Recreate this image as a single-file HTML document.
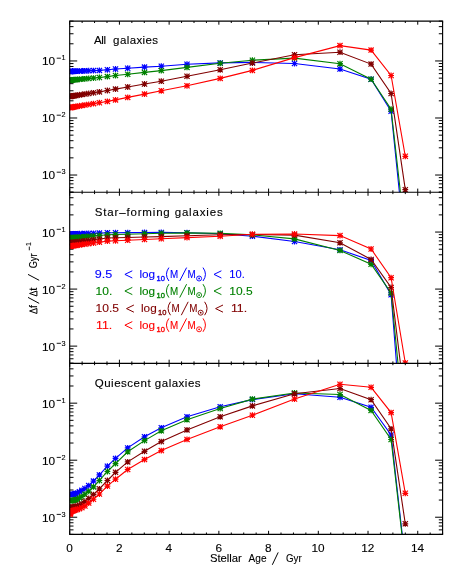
<!DOCTYPE html>
<html><head><meta charset="utf-8"><title>SFH</title>
<style>
html,body{margin:0;padding:0;background:#fff;}
svg{display:block;will-change:transform;}
text{font-family:"Liberation Sans",sans-serif;fill:#000;stroke:#000;stroke-width:0.12px;}
</style></head><body>
<svg width="463" height="579" viewBox="0 0 463 579">
<rect width="463" height="579" fill="#fff"/>
<defs>
<clipPath id="c0"><rect x="69.7" y="21.10" width="372.90" height="171.10"/></clipPath>
<clipPath id="c1"><rect x="69.7" y="192.20" width="372.90" height="171.10"/></clipPath>
<clipPath id="c2"><rect x="69.7" y="363.30" width="372.90" height="171.10"/></clipPath>
</defs>
<path d="M69.70 21.10v3.6M69.70 192.20v-3.6M82.13 21.10v1.9M82.13 192.20v-1.9M94.56 21.10v1.9M94.56 192.20v-1.9M106.99 21.10v1.9M106.99 192.20v-1.9M119.42 21.10v3.6M119.42 192.20v-3.6M131.85 21.10v1.9M131.85 192.20v-1.9M144.28 21.10v1.9M144.28 192.20v-1.9M156.71 21.10v1.9M156.71 192.20v-1.9M169.14 21.10v3.6M169.14 192.20v-3.6M181.57 21.10v1.9M181.57 192.20v-1.9M194.00 21.10v1.9M194.00 192.20v-1.9M206.43 21.10v1.9M206.43 192.20v-1.9M218.86 21.10v3.6M218.86 192.20v-3.6M231.29 21.10v1.9M231.29 192.20v-1.9M243.72 21.10v1.9M243.72 192.20v-1.9M256.15 21.10v1.9M256.15 192.20v-1.9M268.58 21.10v3.6M268.58 192.20v-3.6M281.01 21.10v1.9M281.01 192.20v-1.9M293.44 21.10v1.9M293.44 192.20v-1.9M305.87 21.10v1.9M305.87 192.20v-1.9M318.30 21.10v3.6M318.30 192.20v-3.6M330.73 21.10v1.9M330.73 192.20v-1.9M343.16 21.10v1.9M343.16 192.20v-1.9M355.59 21.10v1.9M355.59 192.20v-1.9M368.02 21.10v3.6M368.02 192.20v-3.6M380.45 21.10v1.9M380.45 192.20v-1.9M392.88 21.10v1.9M392.88 192.20v-1.9M405.31 21.10v1.9M405.31 192.20v-1.9M417.74 21.10v3.6M417.74 192.20v-3.6M430.17 21.10v1.9M430.17 192.20v-1.9M442.60 21.10v1.9M442.60 192.20v-1.9M69.7 60.96h7.5M442.6 60.96h-7.5M69.7 43.79h3.8M442.6 43.79h-3.8M69.7 33.75h3.8M442.6 33.75h-3.8M69.7 26.63h3.8M442.6 26.63h-3.8M69.7 21.10h3.8M442.6 21.10h-3.8M69.7 117.99h7.5M442.6 117.99h-7.5M69.7 100.82h3.8M442.6 100.82h-3.8M69.7 90.78h3.8M442.6 90.78h-3.8M69.7 83.66h3.8M442.6 83.66h-3.8M69.7 78.13h3.8M442.6 78.13h-3.8M69.7 73.61h3.8M442.6 73.61h-3.8M69.7 69.80h3.8M442.6 69.80h-3.8M69.7 66.49h3.8M442.6 66.49h-3.8M69.7 63.57h3.8M442.6 63.57h-3.8M69.7 175.02h7.5M442.6 175.02h-7.5M69.7 157.85h3.8M442.6 157.85h-3.8M69.7 147.81h3.8M442.6 147.81h-3.8M69.7 140.69h3.8M442.6 140.69h-3.8M69.7 135.16h3.8M442.6 135.16h-3.8M69.7 130.64h3.8M442.6 130.64h-3.8M69.7 126.83h3.8M442.6 126.83h-3.8M69.7 123.52h3.8M442.6 123.52h-3.8M69.7 120.60h3.8M442.6 120.60h-3.8M69.7 192.19h3.8M442.6 192.19h-3.8M69.7 187.67h3.8M442.6 187.67h-3.8M69.7 183.86h3.8M442.6 183.86h-3.8M69.7 180.55h3.8M442.6 180.55h-3.8M69.7 177.63h3.8M442.6 177.63h-3.8M69.70 192.20v3.6M69.70 363.30v-3.6M82.13 192.20v1.9M82.13 363.30v-1.9M94.56 192.20v1.9M94.56 363.30v-1.9M106.99 192.20v1.9M106.99 363.30v-1.9M119.42 192.20v3.6M119.42 363.30v-3.6M131.85 192.20v1.9M131.85 363.30v-1.9M144.28 192.20v1.9M144.28 363.30v-1.9M156.71 192.20v1.9M156.71 363.30v-1.9M169.14 192.20v3.6M169.14 363.30v-3.6M181.57 192.20v1.9M181.57 363.30v-1.9M194.00 192.20v1.9M194.00 363.30v-1.9M206.43 192.20v1.9M206.43 363.30v-1.9M218.86 192.20v3.6M218.86 363.30v-3.6M231.29 192.20v1.9M231.29 363.30v-1.9M243.72 192.20v1.9M243.72 363.30v-1.9M256.15 192.20v1.9M256.15 363.30v-1.9M268.58 192.20v3.6M268.58 363.30v-3.6M281.01 192.20v1.9M281.01 363.30v-1.9M293.44 192.20v1.9M293.44 363.30v-1.9M305.87 192.20v1.9M305.87 363.30v-1.9M318.30 192.20v3.6M318.30 363.30v-3.6M330.73 192.20v1.9M330.73 363.30v-1.9M343.16 192.20v1.9M343.16 363.30v-1.9M355.59 192.20v1.9M355.59 363.30v-1.9M368.02 192.20v3.6M368.02 363.30v-3.6M380.45 192.20v1.9M380.45 363.30v-1.9M392.88 192.20v1.9M392.88 363.30v-1.9M405.31 192.20v1.9M405.31 363.30v-1.9M417.74 192.20v3.6M417.74 363.30v-3.6M430.17 192.20v1.9M430.17 363.30v-1.9M442.60 192.20v1.9M442.60 363.30v-1.9M69.7 232.06h7.5M442.6 232.06h-7.5M69.7 214.89h3.8M442.6 214.89h-3.8M69.7 204.85h3.8M442.6 204.85h-3.8M69.7 197.73h3.8M442.6 197.73h-3.8M69.7 192.20h3.8M442.6 192.20h-3.8M69.7 289.09h7.5M442.6 289.09h-7.5M69.7 271.92h3.8M442.6 271.92h-3.8M69.7 261.88h3.8M442.6 261.88h-3.8M69.7 254.76h3.8M442.6 254.76h-3.8M69.7 249.23h3.8M442.6 249.23h-3.8M69.7 244.71h3.8M442.6 244.71h-3.8M69.7 240.90h3.8M442.6 240.90h-3.8M69.7 237.59h3.8M442.6 237.59h-3.8M69.7 234.67h3.8M442.6 234.67h-3.8M69.7 346.12h7.5M442.6 346.12h-7.5M69.7 328.95h3.8M442.6 328.95h-3.8M69.7 318.91h3.8M442.6 318.91h-3.8M69.7 311.79h3.8M442.6 311.79h-3.8M69.7 306.26h3.8M442.6 306.26h-3.8M69.7 301.74h3.8M442.6 301.74h-3.8M69.7 297.93h3.8M442.6 297.93h-3.8M69.7 294.62h3.8M442.6 294.62h-3.8M69.7 291.70h3.8M442.6 291.70h-3.8M69.7 363.29h3.8M442.6 363.29h-3.8M69.7 358.77h3.8M442.6 358.77h-3.8M69.7 354.96h3.8M442.6 354.96h-3.8M69.7 351.65h3.8M442.6 351.65h-3.8M69.7 348.73h3.8M442.6 348.73h-3.8M69.70 363.30v3.6M69.70 534.40v-3.6M82.13 363.30v1.9M82.13 534.40v-1.9M94.56 363.30v1.9M94.56 534.40v-1.9M106.99 363.30v1.9M106.99 534.40v-1.9M119.42 363.30v3.6M119.42 534.40v-3.6M131.85 363.30v1.9M131.85 534.40v-1.9M144.28 363.30v1.9M144.28 534.40v-1.9M156.71 363.30v1.9M156.71 534.40v-1.9M169.14 363.30v3.6M169.14 534.40v-3.6M181.57 363.30v1.9M181.57 534.40v-1.9M194.00 363.30v1.9M194.00 534.40v-1.9M206.43 363.30v1.9M206.43 534.40v-1.9M218.86 363.30v3.6M218.86 534.40v-3.6M231.29 363.30v1.9M231.29 534.40v-1.9M243.72 363.30v1.9M243.72 534.40v-1.9M256.15 363.30v1.9M256.15 534.40v-1.9M268.58 363.30v3.6M268.58 534.40v-3.6M281.01 363.30v1.9M281.01 534.40v-1.9M293.44 363.30v1.9M293.44 534.40v-1.9M305.87 363.30v1.9M305.87 534.40v-1.9M318.30 363.30v3.6M318.30 534.40v-3.6M330.73 363.30v1.9M330.73 534.40v-1.9M343.16 363.30v1.9M343.16 534.40v-1.9M355.59 363.30v1.9M355.59 534.40v-1.9M368.02 363.30v3.6M368.02 534.40v-3.6M380.45 363.30v1.9M380.45 534.40v-1.9M392.88 363.30v1.9M392.88 534.40v-1.9M405.31 363.30v1.9M405.31 534.40v-1.9M417.74 363.30v3.6M417.74 534.40v-3.6M430.17 363.30v1.9M430.17 534.40v-1.9M442.60 363.30v1.9M442.60 534.40v-1.9M69.7 403.16h7.5M442.6 403.16h-7.5M69.7 385.99h3.8M442.6 385.99h-3.8M69.7 375.95h3.8M442.6 375.95h-3.8M69.7 368.83h3.8M442.6 368.83h-3.8M69.7 363.30h3.8M442.6 363.30h-3.8M69.7 460.19h7.5M442.6 460.19h-7.5M69.7 443.02h3.8M442.6 443.02h-3.8M69.7 432.98h3.8M442.6 432.98h-3.8M69.7 425.86h3.8M442.6 425.86h-3.8M69.7 420.33h3.8M442.6 420.33h-3.8M69.7 415.81h3.8M442.6 415.81h-3.8M69.7 412.00h3.8M442.6 412.00h-3.8M69.7 408.69h3.8M442.6 408.69h-3.8M69.7 405.77h3.8M442.6 405.77h-3.8M69.7 517.22h7.5M442.6 517.22h-7.5M69.7 500.05h3.8M442.6 500.05h-3.8M69.7 490.01h3.8M442.6 490.01h-3.8M69.7 482.89h3.8M442.6 482.89h-3.8M69.7 477.36h3.8M442.6 477.36h-3.8M69.7 472.84h3.8M442.6 472.84h-3.8M69.7 469.03h3.8M442.6 469.03h-3.8M69.7 465.72h3.8M442.6 465.72h-3.8M69.7 462.80h3.8M442.6 462.80h-3.8M69.7 534.39h3.8M442.6 534.39h-3.8M69.7 529.87h3.8M442.6 529.87h-3.8M69.7 526.06h3.8M442.6 526.06h-3.8M69.7 522.75h3.8M442.6 522.75h-3.8M69.7 519.83h3.8M442.6 519.83h-3.8" fill="none" stroke="#000" stroke-width="1.0"/>
<g clip-path="url(#c0)" fill="none">
<path d="M69.81 71.40L69.84 71.40L69.88 71.39L69.92 71.39L69.97 71.39L70.04 71.39L70.13 71.39L70.24 71.38L70.37 71.38L70.54 71.37L70.74 71.36L71.01 71.36L71.33 71.35L71.74 71.33L72.25 71.31L72.89 71.29L73.69 71.27L74.68 71.23L75.93 71.19L77.49 71.14L79.43 71.07L81.87 70.99L84.91 70.89L88.71 70.76L93.46 70.60L99.40 70.40L107.40 69.80L115.50 69.00L127.70 68.20L144.50 67.10L161.30 66.20L187.00 64.20L220.20 62.90L252.40 62.40L294.50 63.50L340.00 69.00L371.10 79.20L391.10 111.20L405.30 250.00" stroke="#0000ff" stroke-width="1.1"/>
<path d="M66.91 71.40H72.71M69.81 68.50V74.30M67.21 68.80L72.41 74.00M67.21 74.00L72.41 68.80M66.94 71.40H72.74M69.84 68.50V74.30M67.24 68.80L72.44 74.00M67.24 74.00L72.44 68.80M66.98 71.39H72.78M69.88 68.49V74.29M67.28 68.79L72.48 73.99M67.28 73.99L72.48 68.79M67.02 71.39H72.82M69.92 68.49V74.29M67.32 68.79L72.52 73.99M67.32 73.99L72.52 68.79M67.07 71.39H72.87M69.97 68.49V74.29M67.37 68.79L72.57 73.99M67.37 73.99L72.57 68.79M67.14 71.39H72.94M70.04 68.49V74.29M67.44 68.79L72.64 73.99M67.44 73.99L72.64 68.79M67.23 71.39H73.03M70.13 68.49V74.29M67.53 68.79L72.73 73.99M67.53 73.99L72.73 68.79M67.34 71.38H73.14M70.24 68.48V74.28M67.64 68.78L72.84 73.98M67.64 73.98L72.84 68.78M67.47 71.38H73.27M70.37 68.48V74.28M67.77 68.78L72.97 73.98M67.77 73.98L72.97 68.78M67.64 71.37H73.44M70.54 68.47V74.27M67.94 68.77L73.14 73.97M67.94 73.97L73.14 68.77M67.84 71.36H73.64M70.74 68.46V74.26M68.14 68.76L73.34 73.96M68.14 73.96L73.34 68.76M68.11 71.36H73.91M71.01 68.46V74.26M68.41 68.76L73.61 73.96M68.41 73.96L73.61 68.76M68.43 71.35H74.23M71.33 68.45V74.25M68.73 68.75L73.93 73.95M68.73 73.95L73.93 68.75M68.84 71.33H74.64M71.74 68.43V74.23M69.14 68.73L74.34 73.93M69.14 73.93L74.34 68.73M69.35 71.31H75.15M72.25 68.41V74.21M69.65 68.71L74.85 73.91M69.65 73.91L74.85 68.71M69.99 71.29H75.79M72.89 68.39V74.19M70.29 68.69L75.49 73.89M70.29 73.89L75.49 68.69M70.79 71.27H76.59M73.69 68.37V74.17M71.09 68.67L76.29 73.87M71.09 73.87L76.29 68.67M71.78 71.23H77.58M74.68 68.33V74.13M72.08 68.63L77.28 73.83M72.08 73.83L77.28 68.63M73.03 71.19H78.83M75.93 68.29V74.09M73.33 68.59L78.53 73.79M73.33 73.79L78.53 68.59M74.59 71.14H80.39M77.49 68.24V74.04M74.89 68.54L80.09 73.74M74.89 73.74L80.09 68.54M76.53 71.07H82.33M79.43 68.17V73.97M76.83 68.47L82.03 73.67M76.83 73.67L82.03 68.47M78.97 70.99H84.77M81.87 68.09V73.89M79.27 68.39L84.47 73.59M79.27 73.59L84.47 68.39M82.01 70.89H87.81M84.91 67.99V73.79M82.31 68.29L87.51 73.49M82.31 73.49L87.51 68.29M85.81 70.76H91.61M88.71 67.86V73.66M86.11 68.16L91.31 73.36M86.11 73.36L91.31 68.16M90.56 70.60H96.36M93.46 67.70V73.50M90.86 68.00L96.06 73.20M90.86 73.20L96.06 68.00M96.50 70.40H102.30M99.40 67.50V73.30M96.80 67.80L102.00 73.00M96.80 73.00L102.00 67.80M104.50 69.80H110.30M107.40 66.90V72.70M104.80 67.20L110.00 72.40M104.80 72.40L110.00 67.20M112.60 69.00H118.40M115.50 66.10V71.90M112.90 66.40L118.10 71.60M112.90 71.60L118.10 66.40M124.80 68.20H130.60M127.70 65.30V71.10M125.10 65.60L130.30 70.80M125.10 70.80L130.30 65.60M141.60 67.10H147.40M144.50 64.20V70.00M141.90 64.50L147.10 69.70M141.90 69.70L147.10 64.50M158.40 66.20H164.20M161.30 63.30V69.10M158.70 63.60L163.90 68.80M158.70 68.80L163.90 63.60M184.10 64.20H189.90M187.00 61.30V67.10M184.40 61.60L189.60 66.80M184.40 66.80L189.60 61.60M217.30 62.90H223.10M220.20 60.00V65.80M217.60 60.30L222.80 65.50M217.60 65.50L222.80 60.30M249.50 62.40H255.30M252.40 59.50V65.30M249.80 59.80L255.00 65.00M249.80 65.00L255.00 59.80M291.60 63.50H297.40M294.50 60.60V66.40M291.90 60.90L297.10 66.10M291.90 66.10L297.10 60.90M337.10 69.00H342.90M340.00 66.10V71.90M337.40 66.40L342.60 71.60M337.40 71.60L342.60 66.40M368.20 79.20H374.00M371.10 76.30V82.10M368.50 76.60L373.70 81.80M368.50 81.80L373.70 76.60M388.20 111.20H394.00M391.10 108.30V114.10M388.50 108.60L393.70 113.80M388.50 113.80L393.70 108.60M402.40 250.00H408.20M405.30 247.10V252.90M402.70 247.40L407.90 252.60M402.70 252.60L407.90 247.40" stroke="#0000ff" stroke-width="1.2"/>
<path d="M69.81 80.19L69.84 80.19L69.88 80.18L69.92 80.18L69.97 80.18L70.04 80.17L70.13 80.16L70.24 80.15L70.37 80.14L70.54 80.12L70.74 80.11L71.01 80.08L71.33 80.05L71.74 80.01L72.25 79.97L72.89 79.91L73.69 79.84L74.68 79.75L75.93 79.63L77.49 79.49L79.43 79.32L81.87 79.09L84.91 78.82L88.71 78.47L93.46 78.04L99.40 77.50L107.40 76.60L115.50 75.50L127.70 74.30L144.50 72.40L161.30 70.60L187.00 67.40L220.20 63.30L252.40 60.20L294.50 58.10L340.00 63.70L371.10 79.20L391.10 109.20L405.30 236.00" stroke="#008000" stroke-width="1.1"/>
<path d="M66.91 80.19H72.71M69.81 77.29V83.09M67.21 77.59L72.41 82.79M67.21 82.79L72.41 77.59M66.94 80.19H72.74M69.84 77.29V83.09M67.24 77.59L72.44 82.79M67.24 82.79L72.44 77.59M66.98 80.18H72.78M69.88 77.28V83.08M67.28 77.58L72.48 82.78M67.28 82.78L72.48 77.58M67.02 80.18H72.82M69.92 77.28V83.08M67.32 77.58L72.52 82.78M67.32 82.78L72.52 77.58M67.07 80.18H72.87M69.97 77.28V83.08M67.37 77.58L72.57 82.78M67.37 82.78L72.57 77.58M67.14 80.17H72.94M70.04 77.27V83.07M67.44 77.57L72.64 82.77M67.44 82.77L72.64 77.57M67.23 80.16H73.03M70.13 77.26V83.06M67.53 77.56L72.73 82.76M67.53 82.76L72.73 77.56M67.34 80.15H73.14M70.24 77.25V83.05M67.64 77.55L72.84 82.75M67.64 82.75L72.84 77.55M67.47 80.14H73.27M70.37 77.24V83.04M67.77 77.54L72.97 82.74M67.77 82.74L72.97 77.54M67.64 80.12H73.44M70.54 77.22V83.02M67.94 77.52L73.14 82.72M67.94 82.72L73.14 77.52M67.84 80.11H73.64M70.74 77.21V83.01M68.14 77.51L73.34 82.71M68.14 82.71L73.34 77.51M68.11 80.08H73.91M71.01 77.18V82.98M68.41 77.48L73.61 82.68M68.41 82.68L73.61 77.48M68.43 80.05H74.23M71.33 77.15V82.95M68.73 77.45L73.93 82.65M68.73 82.65L73.93 77.45M68.84 80.01H74.64M71.74 77.11V82.91M69.14 77.41L74.34 82.61M69.14 82.61L74.34 77.41M69.35 79.97H75.15M72.25 77.07V82.87M69.65 77.37L74.85 82.57M69.65 82.57L74.85 77.37M69.99 79.91H75.79M72.89 77.01V82.81M70.29 77.31L75.49 82.51M70.29 82.51L75.49 77.31M70.79 79.84H76.59M73.69 76.94V82.74M71.09 77.24L76.29 82.44M71.09 82.44L76.29 77.24M71.78 79.75H77.58M74.68 76.85V82.65M72.08 77.15L77.28 82.35M72.08 82.35L77.28 77.15M73.03 79.63H78.83M75.93 76.73V82.53M73.33 77.03L78.53 82.23M73.33 82.23L78.53 77.03M74.59 79.49H80.39M77.49 76.59V82.39M74.89 76.89L80.09 82.09M74.89 82.09L80.09 76.89M76.53 79.32H82.33M79.43 76.42V82.22M76.83 76.72L82.03 81.92M76.83 81.92L82.03 76.72M78.97 79.09H84.77M81.87 76.19V81.99M79.27 76.49L84.47 81.69M79.27 81.69L84.47 76.49M82.01 78.82H87.81M84.91 75.92V81.72M82.31 76.22L87.51 81.42M82.31 81.42L87.51 76.22M85.81 78.47H91.61M88.71 75.57V81.37M86.11 75.87L91.31 81.07M86.11 81.07L91.31 75.87M90.56 78.04H96.36M93.46 75.14V80.94M90.86 75.44L96.06 80.64M90.86 80.64L96.06 75.44M96.50 77.50H102.30M99.40 74.60V80.40M96.80 74.90L102.00 80.10M96.80 80.10L102.00 74.90M104.50 76.60H110.30M107.40 73.70V79.50M104.80 74.00L110.00 79.20M104.80 79.20L110.00 74.00M112.60 75.50H118.40M115.50 72.60V78.40M112.90 72.90L118.10 78.10M112.90 78.10L118.10 72.90M124.80 74.30H130.60M127.70 71.40V77.20M125.10 71.70L130.30 76.90M125.10 76.90L130.30 71.70M141.60 72.40H147.40M144.50 69.50V75.30M141.90 69.80L147.10 75.00M141.90 75.00L147.10 69.80M158.40 70.60H164.20M161.30 67.70V73.50M158.70 68.00L163.90 73.20M158.70 73.20L163.90 68.00M184.10 67.40H189.90M187.00 64.50V70.30M184.40 64.80L189.60 70.00M184.40 70.00L189.60 64.80M217.30 63.30H223.10M220.20 60.40V66.20M217.60 60.70L222.80 65.90M217.60 65.90L222.80 60.70M249.50 60.20H255.30M252.40 57.30V63.10M249.80 57.60L255.00 62.80M249.80 62.80L255.00 57.60M291.60 58.10H297.40M294.50 55.20V61.00M291.90 55.50L297.10 60.70M291.90 60.70L297.10 55.50M337.10 63.70H342.90M340.00 60.80V66.60M337.40 61.10L342.60 66.30M337.40 66.30L342.60 61.10M368.20 79.20H374.00M371.10 76.30V82.10M368.50 76.60L373.70 81.80M368.50 81.80L373.70 76.60M388.20 109.20H394.00M391.10 106.30V112.10M388.50 106.60L393.70 111.80M388.50 111.80L393.70 106.60M402.40 236.00H408.20M405.30 233.10V238.90M402.70 233.40L407.90 238.60M402.70 238.60L407.90 233.40" stroke="#008000" stroke-width="1.2"/>
<path d="M69.81 96.38L69.84 96.38L69.88 96.37L69.92 96.37L69.97 96.36L70.04 96.35L70.13 96.34L70.24 96.32L70.37 96.30L70.54 96.27L70.74 96.24L71.01 96.20L71.33 96.15L71.74 96.09L72.25 96.01L72.89 95.92L73.69 95.80L74.68 95.65L75.93 95.46L77.49 95.22L79.43 94.93L81.87 94.56L84.91 94.10L88.71 93.52L93.46 92.80L99.40 91.90L107.40 90.50L115.50 89.10L127.70 87.00L144.50 84.00L161.30 81.20L187.00 76.30L220.20 69.80L252.40 63.00L294.50 54.80L340.00 52.20L371.10 64.10L391.10 93.50L405.30 189.70" stroke="#800000" stroke-width="1.1"/>
<path d="M66.91 96.38H72.71M69.81 93.48V99.28M67.21 93.78L72.41 98.98M67.21 98.98L72.41 93.78M66.94 96.38H72.74M69.84 93.48V99.28M67.24 93.78L72.44 98.98M67.24 98.98L72.44 93.78M66.98 96.37H72.78M69.88 93.47V99.27M67.28 93.77L72.48 98.97M67.28 98.97L72.48 93.77M67.02 96.37H72.82M69.92 93.47V99.27M67.32 93.77L72.52 98.97M67.32 98.97L72.52 93.77M67.07 96.36H72.87M69.97 93.46V99.26M67.37 93.76L72.57 98.96M67.37 98.96L72.57 93.76M67.14 96.35H72.94M70.04 93.45V99.25M67.44 93.75L72.64 98.95M67.44 98.95L72.64 93.75M67.23 96.34H73.03M70.13 93.44V99.24M67.53 93.74L72.73 98.94M67.53 98.94L72.73 93.74M67.34 96.32H73.14M70.24 93.42V99.22M67.64 93.72L72.84 98.92M67.64 98.92L72.84 93.72M67.47 96.30H73.27M70.37 93.40V99.20M67.77 93.70L72.97 98.90M67.77 98.90L72.97 93.70M67.64 96.27H73.44M70.54 93.37V99.17M67.94 93.67L73.14 98.87M67.94 98.87L73.14 93.67M67.84 96.24H73.64M70.74 93.34V99.14M68.14 93.64L73.34 98.84M68.14 98.84L73.34 93.64M68.11 96.20H73.91M71.01 93.30V99.10M68.41 93.60L73.61 98.80M68.41 98.80L73.61 93.60M68.43 96.15H74.23M71.33 93.25V99.05M68.73 93.55L73.93 98.75M68.73 98.75L73.93 93.55M68.84 96.09H74.64M71.74 93.19V98.99M69.14 93.49L74.34 98.69M69.14 98.69L74.34 93.49M69.35 96.01H75.15M72.25 93.11V98.91M69.65 93.41L74.85 98.61M69.65 98.61L74.85 93.41M69.99 95.92H75.79M72.89 93.02V98.82M70.29 93.32L75.49 98.52M70.29 98.52L75.49 93.32M70.79 95.80H76.59M73.69 92.90V98.70M71.09 93.20L76.29 98.40M71.09 98.40L76.29 93.20M71.78 95.65H77.58M74.68 92.75V98.55M72.08 93.05L77.28 98.25M72.08 98.25L77.28 93.05M73.03 95.46H78.83M75.93 92.56V98.36M73.33 92.86L78.53 98.06M73.33 98.06L78.53 92.86M74.59 95.22H80.39M77.49 92.32V98.12M74.89 92.62L80.09 97.82M74.89 97.82L80.09 92.62M76.53 94.93H82.33M79.43 92.03V97.83M76.83 92.33L82.03 97.53M76.83 97.53L82.03 92.33M78.97 94.56H84.77M81.87 91.66V97.46M79.27 91.96L84.47 97.16M79.27 97.16L84.47 91.96M82.01 94.10H87.81M84.91 91.20V97.00M82.31 91.50L87.51 96.70M82.31 96.70L87.51 91.50M85.81 93.52H91.61M88.71 90.62V96.42M86.11 90.92L91.31 96.12M86.11 96.12L91.31 90.92M90.56 92.80H96.36M93.46 89.90V95.70M90.86 90.20L96.06 95.40M90.86 95.40L96.06 90.20M96.50 91.90H102.30M99.40 89.00V94.80M96.80 89.30L102.00 94.50M96.80 94.50L102.00 89.30M104.50 90.50H110.30M107.40 87.60V93.40M104.80 87.90L110.00 93.10M104.80 93.10L110.00 87.90M112.60 89.10H118.40M115.50 86.20V92.00M112.90 86.50L118.10 91.70M112.90 91.70L118.10 86.50M124.80 87.00H130.60M127.70 84.10V89.90M125.10 84.40L130.30 89.60M125.10 89.60L130.30 84.40M141.60 84.00H147.40M144.50 81.10V86.90M141.90 81.40L147.10 86.60M141.90 86.60L147.10 81.40M158.40 81.20H164.20M161.30 78.30V84.10M158.70 78.60L163.90 83.80M158.70 83.80L163.90 78.60M184.10 76.30H189.90M187.00 73.40V79.20M184.40 73.70L189.60 78.90M184.40 78.90L189.60 73.70M217.30 69.80H223.10M220.20 66.90V72.70M217.60 67.20L222.80 72.40M217.60 72.40L222.80 67.20M249.50 63.00H255.30M252.40 60.10V65.90M249.80 60.40L255.00 65.60M249.80 65.60L255.00 60.40M291.60 54.80H297.40M294.50 51.90V57.70M291.90 52.20L297.10 57.40M291.90 57.40L297.10 52.20M337.10 52.20H342.90M340.00 49.30V55.10M337.40 49.60L342.60 54.80M337.40 54.80L342.60 49.60M368.20 64.10H374.00M371.10 61.20V67.00M368.50 61.50L373.70 66.70M368.50 66.70L373.70 61.50M388.20 93.50H394.00M391.10 90.60V96.40M388.50 90.90L393.70 96.10M388.50 96.10L393.70 90.90M402.40 189.70H408.20M405.30 186.80V192.60M402.70 187.10L407.90 192.30M402.70 192.30L407.90 187.10" stroke="#800000" stroke-width="1.2"/>
<path d="M69.81 107.58L69.84 107.58L69.88 107.57L69.92 107.56L69.97 107.55L70.04 107.54L70.13 107.53L70.24 107.51L70.37 107.49L70.54 107.46L70.74 107.43L71.01 107.38L71.33 107.33L71.74 107.26L72.25 107.18L72.89 107.07L73.69 106.94L74.68 106.78L75.93 106.57L77.49 106.32L79.43 105.99L81.87 105.59L84.91 105.09L88.71 104.46L93.46 103.68L99.40 102.70L107.40 101.40L115.50 99.90L127.70 97.40L144.50 94.10L161.30 90.80L187.00 85.80L220.20 78.40L252.40 70.40L294.50 57.60L340.00 45.60L371.10 50.10L391.10 75.50L405.30 156.30" stroke="#ff0000" stroke-width="1.1"/>
<path d="M66.91 107.58H72.71M69.81 104.68V110.48M67.21 104.98L72.41 110.18M67.21 110.18L72.41 104.98M66.94 107.58H72.74M69.84 104.68V110.48M67.24 104.98L72.44 110.18M67.24 110.18L72.44 104.98M66.98 107.57H72.78M69.88 104.67V110.47M67.28 104.97L72.48 110.17M67.28 110.17L72.48 104.97M67.02 107.56H72.82M69.92 104.66V110.46M67.32 104.96L72.52 110.16M67.32 110.16L72.52 104.96M67.07 107.55H72.87M69.97 104.65V110.45M67.37 104.95L72.57 110.15M67.37 110.15L72.57 104.95M67.14 107.54H72.94M70.04 104.64V110.44M67.44 104.94L72.64 110.14M67.44 110.14L72.64 104.94M67.23 107.53H73.03M70.13 104.63V110.43M67.53 104.93L72.73 110.13M67.53 110.13L72.73 104.93M67.34 107.51H73.14M70.24 104.61V110.41M67.64 104.91L72.84 110.11M67.64 110.11L72.84 104.91M67.47 107.49H73.27M70.37 104.59V110.39M67.77 104.89L72.97 110.09M67.77 110.09L72.97 104.89M67.64 107.46H73.44M70.54 104.56V110.36M67.94 104.86L73.14 110.06M67.94 110.06L73.14 104.86M67.84 107.43H73.64M70.74 104.53V110.33M68.14 104.83L73.34 110.03M68.14 110.03L73.34 104.83M68.11 107.38H73.91M71.01 104.48V110.28M68.41 104.78L73.61 109.98M68.41 109.98L73.61 104.78M68.43 107.33H74.23M71.33 104.43V110.23M68.73 104.73L73.93 109.93M68.73 109.93L73.93 104.73M68.84 107.26H74.64M71.74 104.36V110.16M69.14 104.66L74.34 109.86M69.14 109.86L74.34 104.66M69.35 107.18H75.15M72.25 104.28V110.08M69.65 104.58L74.85 109.78M69.65 109.78L74.85 104.58M69.99 107.07H75.79M72.89 104.17V109.97M70.29 104.47L75.49 109.67M70.29 109.67L75.49 104.47M70.79 106.94H76.59M73.69 104.04V109.84M71.09 104.34L76.29 109.54M71.09 109.54L76.29 104.34M71.78 106.78H77.58M74.68 103.88V109.68M72.08 104.18L77.28 109.38M72.08 109.38L77.28 104.18M73.03 106.57H78.83M75.93 103.67V109.47M73.33 103.97L78.53 109.17M73.33 109.17L78.53 103.97M74.59 106.32H80.39M77.49 103.42V109.22M74.89 103.72L80.09 108.92M74.89 108.92L80.09 103.72M76.53 105.99H82.33M79.43 103.09V108.89M76.83 103.39L82.03 108.59M76.83 108.59L82.03 103.39M78.97 105.59H84.77M81.87 102.69V108.49M79.27 102.99L84.47 108.19M79.27 108.19L84.47 102.99M82.01 105.09H87.81M84.91 102.19V107.99M82.31 102.49L87.51 107.69M82.31 107.69L87.51 102.49M85.81 104.46H91.61M88.71 101.56V107.36M86.11 101.86L91.31 107.06M86.11 107.06L91.31 101.86M90.56 103.68H96.36M93.46 100.78V106.58M90.86 101.08L96.06 106.28M90.86 106.28L96.06 101.08M96.50 102.70H102.30M99.40 99.80V105.60M96.80 100.10L102.00 105.30M96.80 105.30L102.00 100.10M104.50 101.40H110.30M107.40 98.50V104.30M104.80 98.80L110.00 104.00M104.80 104.00L110.00 98.80M112.60 99.90H118.40M115.50 97.00V102.80M112.90 97.30L118.10 102.50M112.90 102.50L118.10 97.30M124.80 97.40H130.60M127.70 94.50V100.30M125.10 94.80L130.30 100.00M125.10 100.00L130.30 94.80M141.60 94.10H147.40M144.50 91.20V97.00M141.90 91.50L147.10 96.70M141.90 96.70L147.10 91.50M158.40 90.80H164.20M161.30 87.90V93.70M158.70 88.20L163.90 93.40M158.70 93.40L163.90 88.20M184.10 85.80H189.90M187.00 82.90V88.70M184.40 83.20L189.60 88.40M184.40 88.40L189.60 83.20M217.30 78.40H223.10M220.20 75.50V81.30M217.60 75.80L222.80 81.00M217.60 81.00L222.80 75.80M249.50 70.40H255.30M252.40 67.50V73.30M249.80 67.80L255.00 73.00M249.80 73.00L255.00 67.80M291.60 57.60H297.40M294.50 54.70V60.50M291.90 55.00L297.10 60.20M291.90 60.20L297.10 55.00M337.10 45.60H342.90M340.00 42.70V48.50M337.40 43.00L342.60 48.20M337.40 48.20L342.60 43.00M368.20 50.10H374.00M371.10 47.20V53.00M368.50 47.50L373.70 52.70M368.50 52.70L373.70 47.50M388.20 75.50H394.00M391.10 72.60V78.40M388.50 72.90L393.70 78.10M388.50 78.10L393.70 72.90M402.40 156.30H408.20M405.30 153.40V159.20M402.70 153.70L407.90 158.90M402.70 158.90L407.90 153.70" stroke="#ff0000" stroke-width="1.2"/>
</g>
<g clip-path="url(#c1)" fill="none">
<path d="M69.81 234.10L69.84 234.10L69.88 234.09L69.92 234.09L69.97 234.09L70.04 234.09L70.13 234.09L70.24 234.08L70.37 234.08L70.54 234.07L70.74 234.06L71.01 234.05L71.33 234.04L71.74 234.03L72.25 234.01L72.89 233.99L73.69 233.96L74.68 233.93L75.93 233.89L77.49 233.83L79.43 233.76L81.87 233.68L84.91 233.58L88.71 233.44L93.46 233.28L99.40 233.08L107.40 232.80L115.50 232.74L127.70 232.65L144.50 232.52L161.30 232.40L187.00 232.70L220.20 233.80L252.40 236.20L294.50 241.50L340.00 249.80L371.10 260.40L391.10 294.70L405.30 476.00" stroke="#0000ff" stroke-width="1.1"/>
<path d="M66.91 234.10H72.71M69.81 231.20V237.00M67.21 231.50L72.41 236.70M67.21 236.70L72.41 231.50M66.94 234.10H72.74M69.84 231.20V237.00M67.24 231.50L72.44 236.70M67.24 236.70L72.44 231.50M66.98 234.09H72.78M69.88 231.19V236.99M67.28 231.49L72.48 236.69M67.28 236.69L72.48 231.49M67.02 234.09H72.82M69.92 231.19V236.99M67.32 231.49L72.52 236.69M67.32 236.69L72.52 231.49M67.07 234.09H72.87M69.97 231.19V236.99M67.37 231.49L72.57 236.69M67.37 236.69L72.57 231.49M67.14 234.09H72.94M70.04 231.19V236.99M67.44 231.49L72.64 236.69M67.44 236.69L72.64 231.49M67.23 234.09H73.03M70.13 231.19V236.99M67.53 231.49L72.73 236.69M67.53 236.69L72.73 231.49M67.34 234.08H73.14M70.24 231.18V236.98M67.64 231.48L72.84 236.68M67.64 236.68L72.84 231.48M67.47 234.08H73.27M70.37 231.18V236.98M67.77 231.48L72.97 236.68M67.77 236.68L72.97 231.48M67.64 234.07H73.44M70.54 231.17V236.97M67.94 231.47L73.14 236.67M67.94 236.67L73.14 231.47M67.84 234.06H73.64M70.74 231.16V236.96M68.14 231.46L73.34 236.66M68.14 236.66L73.34 231.46M68.11 234.05H73.91M71.01 231.15V236.95M68.41 231.45L73.61 236.65M68.41 236.65L73.61 231.45M68.43 234.04H74.23M71.33 231.14V236.94M68.73 231.44L73.93 236.64M68.73 236.64L73.93 231.44M68.84 234.03H74.64M71.74 231.13V236.93M69.14 231.43L74.34 236.63M69.14 236.63L74.34 231.43M69.35 234.01H75.15M72.25 231.11V236.91M69.65 231.41L74.85 236.61M69.65 236.61L74.85 231.41M69.99 233.99H75.79M72.89 231.09V236.89M70.29 231.39L75.49 236.59M70.29 236.59L75.49 231.39M70.79 233.96H76.59M73.69 231.06V236.86M71.09 231.36L76.29 236.56M71.09 236.56L76.29 231.36M71.78 233.93H77.58M74.68 231.03V236.83M72.08 231.33L77.28 236.53M72.08 236.53L77.28 231.33M73.03 233.89H78.83M75.93 230.99V236.79M73.33 231.29L78.53 236.49M73.33 236.49L78.53 231.29M74.59 233.83H80.39M77.49 230.93V236.73M74.89 231.23L80.09 236.43M74.89 236.43L80.09 231.23M76.53 233.76H82.33M79.43 230.86V236.66M76.83 231.16L82.03 236.36M76.83 236.36L82.03 231.16M78.97 233.68H84.77M81.87 230.78V236.58M79.27 231.08L84.47 236.28M79.27 236.28L84.47 231.08M82.01 233.58H87.81M84.91 230.68V236.48M82.31 230.98L87.51 236.18M82.31 236.18L87.51 230.98M85.81 233.44H91.61M88.71 230.54V236.34M86.11 230.84L91.31 236.04M86.11 236.04L91.31 230.84M90.56 233.28H96.36M93.46 230.38V236.18M90.86 230.68L96.06 235.88M90.86 235.88L96.06 230.68M96.50 233.08H102.30M99.40 230.18V235.98M96.80 230.48L102.00 235.68M96.80 235.68L102.00 230.48M104.50 232.80H110.30M107.40 229.90V235.70M104.80 230.20L110.00 235.40M104.80 235.40L110.00 230.20M112.60 232.74H118.40M115.50 229.84V235.64M112.90 230.14L118.10 235.34M112.90 235.34L118.10 230.14M124.80 232.65H130.60M127.70 229.75V235.55M125.10 230.05L130.30 235.25M125.10 235.25L130.30 230.05M141.60 232.52H147.40M144.50 229.62V235.42M141.90 229.92L147.10 235.12M141.90 235.12L147.10 229.92M158.40 232.40H164.20M161.30 229.50V235.30M158.70 229.80L163.90 235.00M158.70 235.00L163.90 229.80M184.10 232.70H189.90M187.00 229.80V235.60M184.40 230.10L189.60 235.30M184.40 235.30L189.60 230.10M217.30 233.80H223.10M220.20 230.90V236.70M217.60 231.20L222.80 236.40M217.60 236.40L222.80 231.20M249.50 236.20H255.30M252.40 233.30V239.10M249.80 233.60L255.00 238.80M249.80 238.80L255.00 233.60M291.60 241.50H297.40M294.50 238.60V244.40M291.90 238.90L297.10 244.10M291.90 244.10L297.10 238.90M337.10 249.80H342.90M340.00 246.90V252.70M337.40 247.20L342.60 252.40M337.40 252.40L342.60 247.20M368.20 260.40H374.00M371.10 257.50V263.30M368.50 257.80L373.70 263.00M368.50 263.00L373.70 257.80M388.20 294.70H394.00M391.10 291.80V297.60M388.50 292.10L393.70 297.30M388.50 297.30L393.70 292.10M402.40 476.00H408.20M405.30 473.10V478.90M402.70 473.40L407.90 478.60M402.70 478.60L407.90 473.40" stroke="#0000ff" stroke-width="1.2"/>
<path d="M69.81 237.89L69.84 237.89L69.88 237.89L69.92 237.88L69.97 237.88L70.04 237.87L70.13 237.86L70.24 237.86L70.37 237.85L70.54 237.83L70.74 237.81L71.01 237.79L71.33 237.77L71.74 237.73L72.25 237.69L72.89 237.64L73.69 237.57L74.68 237.49L75.93 237.39L77.49 237.26L79.43 237.10L81.87 236.90L84.91 236.65L88.71 236.34L93.46 235.95L99.40 235.46L107.40 234.80L115.50 234.57L127.70 234.24L144.50 233.77L161.30 233.30L187.00 232.90L220.20 233.30L252.40 234.90L294.50 238.90L340.00 250.40L371.10 264.30L391.10 293.00L405.30 438.00" stroke="#008000" stroke-width="1.1"/>
<path d="M66.91 237.89H72.71M69.81 234.99V240.79M67.21 235.29L72.41 240.49M67.21 240.49L72.41 235.29M66.94 237.89H72.74M69.84 234.99V240.79M67.24 235.29L72.44 240.49M67.24 240.49L72.44 235.29M66.98 237.89H72.78M69.88 234.99V240.79M67.28 235.29L72.48 240.49M67.28 240.49L72.48 235.29M67.02 237.88H72.82M69.92 234.98V240.78M67.32 235.28L72.52 240.48M67.32 240.48L72.52 235.28M67.07 237.88H72.87M69.97 234.98V240.78M67.37 235.28L72.57 240.48M67.37 240.48L72.57 235.28M67.14 237.87H72.94M70.04 234.97V240.77M67.44 235.27L72.64 240.47M67.44 240.47L72.64 235.27M67.23 237.86H73.03M70.13 234.96V240.76M67.53 235.26L72.73 240.46M67.53 240.46L72.73 235.26M67.34 237.86H73.14M70.24 234.96V240.76M67.64 235.26L72.84 240.46M67.64 240.46L72.84 235.26M67.47 237.85H73.27M70.37 234.95V240.75M67.77 235.25L72.97 240.45M67.77 240.45L72.97 235.25M67.64 237.83H73.44M70.54 234.93V240.73M67.94 235.23L73.14 240.43M67.94 240.43L73.14 235.23M67.84 237.81H73.64M70.74 234.91V240.71M68.14 235.21L73.34 240.41M68.14 240.41L73.34 235.21M68.11 237.79H73.91M71.01 234.89V240.69M68.41 235.19L73.61 240.39M68.41 240.39L73.61 235.19M68.43 237.77H74.23M71.33 234.87V240.67M68.73 235.17L73.93 240.37M68.73 240.37L73.93 235.17M68.84 237.73H74.64M71.74 234.83V240.63M69.14 235.13L74.34 240.33M69.14 240.33L74.34 235.13M69.35 237.69H75.15M72.25 234.79V240.59M69.65 235.09L74.85 240.29M69.65 240.29L74.85 235.09M69.99 237.64H75.79M72.89 234.74V240.54M70.29 235.04L75.49 240.24M70.29 240.24L75.49 235.04M70.79 237.57H76.59M73.69 234.67V240.47M71.09 234.97L76.29 240.17M71.09 240.17L76.29 234.97M71.78 237.49H77.58M74.68 234.59V240.39M72.08 234.89L77.28 240.09M72.08 240.09L77.28 234.89M73.03 237.39H78.83M75.93 234.49V240.29M73.33 234.79L78.53 239.99M73.33 239.99L78.53 234.79M74.59 237.26H80.39M77.49 234.36V240.16M74.89 234.66L80.09 239.86M74.89 239.86L80.09 234.66M76.53 237.10H82.33M79.43 234.20V240.00M76.83 234.50L82.03 239.70M76.83 239.70L82.03 234.50M78.97 236.90H84.77M81.87 234.00V239.80M79.27 234.30L84.47 239.50M79.27 239.50L84.47 234.30M82.01 236.65H87.81M84.91 233.75V239.55M82.31 234.05L87.51 239.25M82.31 239.25L87.51 234.05M85.81 236.34H91.61M88.71 233.44V239.24M86.11 233.74L91.31 238.94M86.11 238.94L91.31 233.74M90.56 235.95H96.36M93.46 233.05V238.85M90.86 233.35L96.06 238.55M90.86 238.55L96.06 233.35M96.50 235.46H102.30M99.40 232.56V238.36M96.80 232.86L102.00 238.06M96.80 238.06L102.00 232.86M104.50 234.80H110.30M107.40 231.90V237.70M104.80 232.20L110.00 237.40M104.80 237.40L110.00 232.20M112.60 234.57H118.40M115.50 231.67V237.47M112.90 231.97L118.10 237.17M112.90 237.17L118.10 231.97M124.80 234.24H130.60M127.70 231.34V237.14M125.10 231.64L130.30 236.84M125.10 236.84L130.30 231.64M141.60 233.77H147.40M144.50 230.87V236.67M141.90 231.17L147.10 236.37M141.90 236.37L147.10 231.17M158.40 233.30H164.20M161.30 230.40V236.20M158.70 230.70L163.90 235.90M158.70 235.90L163.90 230.70M184.10 232.90H189.90M187.00 230.00V235.80M184.40 230.30L189.60 235.50M184.40 235.50L189.60 230.30M217.30 233.30H223.10M220.20 230.40V236.20M217.60 230.70L222.80 235.90M217.60 235.90L222.80 230.70M249.50 234.90H255.30M252.40 232.00V237.80M249.80 232.30L255.00 237.50M249.80 237.50L255.00 232.30M291.60 238.90H297.40M294.50 236.00V241.80M291.90 236.30L297.10 241.50M291.90 241.50L297.10 236.30M337.10 250.40H342.90M340.00 247.50V253.30M337.40 247.80L342.60 253.00M337.40 253.00L342.60 247.80M368.20 264.30H374.00M371.10 261.40V267.20M368.50 261.70L373.70 266.90M368.50 266.90L373.70 261.70M388.20 293.00H394.00M391.10 290.10V295.90M388.50 290.40L393.70 295.60M388.50 295.60L393.70 290.40M402.40 438.00H408.20M405.30 435.10V440.90M402.70 435.40L407.90 440.60M402.70 440.60L407.90 435.40" stroke="#008000" stroke-width="1.2"/>
<path d="M69.81 242.89L69.84 242.88L69.88 242.88L69.92 242.87L69.97 242.86L70.04 242.86L70.13 242.84L70.24 242.83L70.37 242.81L70.54 242.79L70.74 242.76L71.01 242.73L71.33 242.69L71.74 242.63L72.25 242.57L72.89 242.49L73.69 242.38L74.68 242.25L75.93 242.09L77.49 241.89L79.43 241.64L81.87 241.32L84.91 240.92L88.71 240.43L93.46 239.81L99.40 239.04L107.40 238.00L115.50 237.79L127.70 237.47L144.50 237.04L161.30 236.60L187.00 235.70L220.20 234.80L252.40 234.50L294.50 235.10L340.00 242.80L371.10 259.40L391.10 287.50L405.30 403.00" stroke="#800000" stroke-width="1.1"/>
<path d="M66.91 242.89H72.71M69.81 239.99V245.79M67.21 240.29L72.41 245.49M67.21 245.49L72.41 240.29M66.94 242.88H72.74M69.84 239.98V245.78M67.24 240.28L72.44 245.48M67.24 245.48L72.44 240.28M66.98 242.88H72.78M69.88 239.98V245.78M67.28 240.28L72.48 245.48M67.28 245.48L72.48 240.28M67.02 242.87H72.82M69.92 239.97V245.77M67.32 240.27L72.52 245.47M67.32 245.47L72.52 240.27M67.07 242.86H72.87M69.97 239.96V245.76M67.37 240.26L72.57 245.46M67.37 245.46L72.57 240.26M67.14 242.86H72.94M70.04 239.96V245.76M67.44 240.26L72.64 245.46M67.44 245.46L72.64 240.26M67.23 242.84H73.03M70.13 239.94V245.74M67.53 240.24L72.73 245.44M67.53 245.44L72.73 240.24M67.34 242.83H73.14M70.24 239.93V245.73M67.64 240.23L72.84 245.43M67.64 245.43L72.84 240.23M67.47 242.81H73.27M70.37 239.91V245.71M67.77 240.21L72.97 245.41M67.77 245.41L72.97 240.21M67.64 242.79H73.44M70.54 239.89V245.69M67.94 240.19L73.14 245.39M67.94 245.39L73.14 240.19M67.84 242.76H73.64M70.74 239.86V245.66M68.14 240.16L73.34 245.36M68.14 245.36L73.34 240.16M68.11 242.73H73.91M71.01 239.83V245.63M68.41 240.13L73.61 245.33M68.41 245.33L73.61 240.13M68.43 242.69H74.23M71.33 239.79V245.59M68.73 240.09L73.93 245.29M68.73 245.29L73.93 240.09M68.84 242.63H74.64M71.74 239.73V245.53M69.14 240.03L74.34 245.23M69.14 245.23L74.34 240.03M69.35 242.57H75.15M72.25 239.67V245.47M69.65 239.97L74.85 245.17M69.65 245.17L74.85 239.97M69.99 242.49H75.79M72.89 239.59V245.39M70.29 239.89L75.49 245.09M70.29 245.09L75.49 239.89M70.79 242.38H76.59M73.69 239.48V245.28M71.09 239.78L76.29 244.98M71.09 244.98L76.29 239.78M71.78 242.25H77.58M74.68 239.35V245.15M72.08 239.65L77.28 244.85M72.08 244.85L77.28 239.65M73.03 242.09H78.83M75.93 239.19V244.99M73.33 239.49L78.53 244.69M73.33 244.69L78.53 239.49M74.59 241.89H80.39M77.49 238.99V244.79M74.89 239.29L80.09 244.49M74.89 244.49L80.09 239.29M76.53 241.64H82.33M79.43 238.74V244.54M76.83 239.04L82.03 244.24M76.83 244.24L82.03 239.04M78.97 241.32H84.77M81.87 238.42V244.22M79.27 238.72L84.47 243.92M79.27 243.92L84.47 238.72M82.01 240.92H87.81M84.91 238.02V243.82M82.31 238.32L87.51 243.52M82.31 243.52L87.51 238.32M85.81 240.43H91.61M88.71 237.53V243.33M86.11 237.83L91.31 243.03M86.11 243.03L91.31 237.83M90.56 239.81H96.36M93.46 236.91V242.71M90.86 237.21L96.06 242.41M90.86 242.41L96.06 237.21M96.50 239.04H102.30M99.40 236.14V241.94M96.80 236.44L102.00 241.64M96.80 241.64L102.00 236.44M104.50 238.00H110.30M107.40 235.10V240.90M104.80 235.40L110.00 240.60M104.80 240.60L110.00 235.40M112.60 237.79H118.40M115.50 234.89V240.69M112.90 235.19L118.10 240.39M112.90 240.39L118.10 235.19M124.80 237.47H130.60M127.70 234.57V240.37M125.10 234.87L130.30 240.07M125.10 240.07L130.30 234.87M141.60 237.04H147.40M144.50 234.14V239.94M141.90 234.44L147.10 239.64M141.90 239.64L147.10 234.44M158.40 236.60H164.20M161.30 233.70V239.50M158.70 234.00L163.90 239.20M158.70 239.20L163.90 234.00M184.10 235.70H189.90M187.00 232.80V238.60M184.40 233.10L189.60 238.30M184.40 238.30L189.60 233.10M217.30 234.80H223.10M220.20 231.90V237.70M217.60 232.20L222.80 237.40M217.60 237.40L222.80 232.20M249.50 234.50H255.30M252.40 231.60V237.40M249.80 231.90L255.00 237.10M249.80 237.10L255.00 231.90M291.60 235.10H297.40M294.50 232.20V238.00M291.90 232.50L297.10 237.70M291.90 237.70L297.10 232.50M337.10 242.80H342.90M340.00 239.90V245.70M337.40 240.20L342.60 245.40M337.40 245.40L342.60 240.20M368.20 259.40H374.00M371.10 256.50V262.30M368.50 256.80L373.70 262.00M368.50 262.00L373.70 256.80M388.20 287.50H394.00M391.10 284.60V290.40M388.50 284.90L393.70 290.10M388.50 290.10L393.70 284.90M402.40 403.00H408.20M405.30 400.10V405.90M402.70 400.40L407.90 405.60M402.70 405.60L407.90 400.40" stroke="#800000" stroke-width="1.2"/>
<path d="M69.81 246.18L69.84 246.18L69.88 246.18L69.92 246.17L69.97 246.16L70.04 246.15L70.13 246.14L70.24 246.13L70.37 246.11L70.54 246.09L70.74 246.06L71.01 246.02L71.33 245.98L71.74 245.92L72.25 245.85L72.89 245.77L73.69 245.66L74.68 245.53L75.93 245.36L77.49 245.15L79.43 244.88L81.87 244.55L84.91 244.14L88.71 243.63L93.46 242.99L99.40 242.18L107.40 241.10L115.50 240.74L127.70 240.20L144.50 239.45L161.30 238.70L187.00 237.60L220.20 236.30L252.40 234.30L294.50 234.00L340.00 235.60L371.10 249.00L391.10 277.70L405.30 363.00" stroke="#ff0000" stroke-width="1.1"/>
<path d="M66.91 246.18H72.71M69.81 243.28V249.08M67.21 243.58L72.41 248.78M67.21 248.78L72.41 243.58M66.94 246.18H72.74M69.84 243.28V249.08M67.24 243.58L72.44 248.78M67.24 248.78L72.44 243.58M66.98 246.18H72.78M69.88 243.28V249.08M67.28 243.58L72.48 248.78M67.28 248.78L72.48 243.58M67.02 246.17H72.82M69.92 243.27V249.07M67.32 243.57L72.52 248.77M67.32 248.77L72.52 243.57M67.07 246.16H72.87M69.97 243.26V249.06M67.37 243.56L72.57 248.76M67.37 248.76L72.57 243.56M67.14 246.15H72.94M70.04 243.25V249.05M67.44 243.55L72.64 248.75M67.44 248.75L72.64 243.55M67.23 246.14H73.03M70.13 243.24V249.04M67.53 243.54L72.73 248.74M67.53 248.74L72.73 243.54M67.34 246.13H73.14M70.24 243.23V249.03M67.64 243.53L72.84 248.73M67.64 248.73L72.84 243.53M67.47 246.11H73.27M70.37 243.21V249.01M67.77 243.51L72.97 248.71M67.77 248.71L72.97 243.51M67.64 246.09H73.44M70.54 243.19V248.99M67.94 243.49L73.14 248.69M67.94 248.69L73.14 243.49M67.84 246.06H73.64M70.74 243.16V248.96M68.14 243.46L73.34 248.66M68.14 248.66L73.34 243.46M68.11 246.02H73.91M71.01 243.12V248.92M68.41 243.42L73.61 248.62M68.41 248.62L73.61 243.42M68.43 245.98H74.23M71.33 243.08V248.88M68.73 243.38L73.93 248.58M68.73 248.58L73.93 243.38M68.84 245.92H74.64M71.74 243.02V248.82M69.14 243.32L74.34 248.52M69.14 248.52L74.34 243.32M69.35 245.85H75.15M72.25 242.95V248.75M69.65 243.25L74.85 248.45M69.65 248.45L74.85 243.25M69.99 245.77H75.79M72.89 242.87V248.67M70.29 243.17L75.49 248.37M70.29 248.37L75.49 243.17M70.79 245.66H76.59M73.69 242.76V248.56M71.09 243.06L76.29 248.26M71.09 248.26L76.29 243.06M71.78 245.53H77.58M74.68 242.63V248.43M72.08 242.93L77.28 248.13M72.08 248.13L77.28 242.93M73.03 245.36H78.83M75.93 242.46V248.26M73.33 242.76L78.53 247.96M73.33 247.96L78.53 242.76M74.59 245.15H80.39M77.49 242.25V248.05M74.89 242.55L80.09 247.75M74.89 247.75L80.09 242.55M76.53 244.88H82.33M79.43 241.98V247.78M76.83 242.28L82.03 247.48M76.83 247.48L82.03 242.28M78.97 244.55H84.77M81.87 241.65V247.45M79.27 241.95L84.47 247.15M79.27 247.15L84.47 241.95M82.01 244.14H87.81M84.91 241.24V247.04M82.31 241.54L87.51 246.74M82.31 246.74L87.51 241.54M85.81 243.63H91.61M88.71 240.73V246.53M86.11 241.03L91.31 246.23M86.11 246.23L91.31 241.03M90.56 242.99H96.36M93.46 240.09V245.89M90.86 240.39L96.06 245.59M90.86 245.59L96.06 240.39M96.50 242.18H102.30M99.40 239.28V245.08M96.80 239.58L102.00 244.78M96.80 244.78L102.00 239.58M104.50 241.10H110.30M107.40 238.20V244.00M104.80 238.50L110.00 243.70M104.80 243.70L110.00 238.50M112.60 240.74H118.40M115.50 237.84V243.64M112.90 238.14L118.10 243.34M112.90 243.34L118.10 238.14M124.80 240.20H130.60M127.70 237.30V243.10M125.10 237.60L130.30 242.80M125.10 242.80L130.30 237.60M141.60 239.45H147.40M144.50 236.55V242.35M141.90 236.85L147.10 242.05M141.90 242.05L147.10 236.85M158.40 238.70H164.20M161.30 235.80V241.60M158.70 236.10L163.90 241.30M158.70 241.30L163.90 236.10M184.10 237.60H189.90M187.00 234.70V240.50M184.40 235.00L189.60 240.20M184.40 240.20L189.60 235.00M217.30 236.30H223.10M220.20 233.40V239.20M217.60 233.70L222.80 238.90M217.60 238.90L222.80 233.70M249.50 234.30H255.30M252.40 231.40V237.20M249.80 231.70L255.00 236.90M249.80 236.90L255.00 231.70M291.60 234.00H297.40M294.50 231.10V236.90M291.90 231.40L297.10 236.60M291.90 236.60L297.10 231.40M337.10 235.60H342.90M340.00 232.70V238.50M337.40 233.00L342.60 238.20M337.40 238.20L342.60 233.00M368.20 249.00H374.00M371.10 246.10V251.90M368.50 246.40L373.70 251.60M368.50 251.60L373.70 246.40M388.20 277.70H394.00M391.10 274.80V280.60M388.50 275.10L393.70 280.30M388.50 280.30L393.70 275.10M402.40 363.00H408.20M405.30 360.10V365.90M402.70 360.40L407.90 365.60M402.70 365.60L407.90 360.40" stroke="#ff0000" stroke-width="1.2"/>
</g>
<g clip-path="url(#c2)" fill="none">
<path d="M69.81 494.60L69.84 494.60L69.88 494.60L69.92 494.60L69.97 494.60L70.04 494.60L70.13 494.60L70.24 494.58L70.37 494.56L70.54 494.54L70.74 494.51L71.01 494.48L71.33 494.46L71.74 494.42L72.25 494.37L72.89 494.29L73.69 494.17L74.68 493.86L75.93 493.46L77.49 492.95L79.43 491.82L81.87 490.38L84.91 488.46L88.71 485.57L93.46 481.10L99.40 474.90L107.40 466.20L115.50 458.40L127.70 447.90L144.50 436.80L161.30 427.80L187.00 416.80L220.20 406.80L252.40 399.60L294.50 393.80L340.00 397.30L371.10 407.30L391.10 435.00L405.30 562.00" stroke="#0000ff" stroke-width="1.1"/>
<path d="M66.91 494.60H72.71M69.81 491.70V497.50M67.21 492.00L72.41 497.20M67.21 497.20L72.41 492.00M66.94 494.60H72.74M69.84 491.70V497.50M67.24 492.00L72.44 497.20M67.24 497.20L72.44 492.00M66.98 494.60H72.78M69.88 491.70V497.50M67.28 492.00L72.48 497.20M67.28 497.20L72.48 492.00M67.02 494.60H72.82M69.92 491.70V497.50M67.32 492.00L72.52 497.20M67.32 497.20L72.52 492.00M67.07 494.60H72.87M69.97 491.70V497.50M67.37 492.00L72.57 497.20M67.37 497.20L72.57 492.00M67.14 494.60H72.94M70.04 491.70V497.50M67.44 492.00L72.64 497.20M67.44 497.20L72.64 492.00M67.23 494.60H73.03M70.13 491.70V497.50M67.53 492.00L72.73 497.20M67.53 497.20L72.73 492.00M67.34 494.58H73.14M70.24 491.68V497.48M67.64 491.98L72.84 497.18M67.64 497.18L72.84 491.98M67.47 494.56H73.27M70.37 491.66V497.46M67.77 491.96L72.97 497.16M67.77 497.16L72.97 491.96M67.64 494.54H73.44M70.54 491.64V497.44M67.94 491.94L73.14 497.14M67.94 497.14L73.14 491.94M67.84 494.51H73.64M70.74 491.61V497.41M68.14 491.91L73.34 497.11M68.14 497.11L73.34 491.91M68.11 494.48H73.91M71.01 491.58V497.38M68.41 491.88L73.61 497.08M68.41 497.08L73.61 491.88M68.43 494.46H74.23M71.33 491.56V497.36M68.73 491.86L73.93 497.06M68.73 497.06L73.93 491.86M68.84 494.42H74.64M71.74 491.52V497.32M69.14 491.82L74.34 497.02M69.14 497.02L74.34 491.82M69.35 494.37H75.15M72.25 491.47V497.27M69.65 491.77L74.85 496.97M69.65 496.97L74.85 491.77M69.99 494.29H75.79M72.89 491.39V497.19M70.29 491.69L75.49 496.89M70.29 496.89L75.49 491.69M70.79 494.17H76.59M73.69 491.27V497.07M71.09 491.57L76.29 496.77M71.09 496.77L76.29 491.57M71.78 493.86H77.58M74.68 490.96V496.76M72.08 491.26L77.28 496.46M72.08 496.46L77.28 491.26M73.03 493.46H78.83M75.93 490.56V496.36M73.33 490.86L78.53 496.06M73.33 496.06L78.53 490.86M74.59 492.95H80.39M77.49 490.05V495.85M74.89 490.35L80.09 495.55M74.89 495.55L80.09 490.35M76.53 491.82H82.33M79.43 488.92V494.72M76.83 489.22L82.03 494.42M76.83 494.42L82.03 489.22M78.97 490.38H84.77M81.87 487.48V493.28M79.27 487.78L84.47 492.98M79.27 492.98L84.47 487.78M82.01 488.46H87.81M84.91 485.56V491.36M82.31 485.86L87.51 491.06M82.31 491.06L87.51 485.86M85.81 485.57H91.61M88.71 482.67V488.47M86.11 482.97L91.31 488.17M86.11 488.17L91.31 482.97M90.56 481.10H96.36M93.46 478.20V484.00M90.86 478.50L96.06 483.70M90.86 483.70L96.06 478.50M96.50 474.90H102.30M99.40 472.00V477.80M96.80 472.30L102.00 477.50M96.80 477.50L102.00 472.30M104.50 466.20H110.30M107.40 463.30V469.10M104.80 463.60L110.00 468.80M104.80 468.80L110.00 463.60M112.60 458.40H118.40M115.50 455.50V461.30M112.90 455.80L118.10 461.00M112.90 461.00L118.10 455.80M124.80 447.90H130.60M127.70 445.00V450.80M125.10 445.30L130.30 450.50M125.10 450.50L130.30 445.30M141.60 436.80H147.40M144.50 433.90V439.70M141.90 434.20L147.10 439.40M141.90 439.40L147.10 434.20M158.40 427.80H164.20M161.30 424.90V430.70M158.70 425.20L163.90 430.40M158.70 430.40L163.90 425.20M184.10 416.80H189.90M187.00 413.90V419.70M184.40 414.20L189.60 419.40M184.40 419.40L189.60 414.20M217.30 406.80H223.10M220.20 403.90V409.70M217.60 404.20L222.80 409.40M217.60 409.40L222.80 404.20M249.50 399.60H255.30M252.40 396.70V402.50M249.80 397.00L255.00 402.20M249.80 402.20L255.00 397.00M291.60 393.80H297.40M294.50 390.90V396.70M291.90 391.20L297.10 396.40M291.90 396.40L297.10 391.20M337.10 397.30H342.90M340.00 394.40V400.20M337.40 394.70L342.60 399.90M337.40 399.90L342.60 394.70M368.20 407.30H374.00M371.10 404.40V410.20M368.50 404.70L373.70 409.90M368.50 409.90L373.70 404.70M388.20 435.00H394.00M391.10 432.10V437.90M388.50 432.40L393.70 437.60M388.50 437.60L393.70 432.40M402.40 562.00H408.20M405.30 559.10V564.90M402.70 559.40L407.90 564.60M402.70 564.60L407.90 559.40" stroke="#0000ff" stroke-width="1.2"/>
<path d="M69.81 500.70L69.84 500.70L69.88 500.70L69.92 500.70L69.97 500.70L70.04 500.70L70.13 500.70L70.24 500.68L70.37 500.66L70.54 500.64L70.74 500.61L71.01 500.58L71.33 500.56L71.74 500.52L72.25 500.47L72.89 500.39L73.69 500.28L74.68 499.99L75.93 499.63L77.49 499.15L79.43 498.02L81.87 496.51L84.91 494.27L88.71 491.27L93.46 486.88L99.40 480.50L107.40 471.50L115.50 463.60L127.70 451.80L144.50 440.60L161.30 430.80L187.00 419.70L220.20 408.50L252.40 399.10L294.50 393.00L340.00 394.50L371.10 410.40L391.10 439.50L405.30 564.00" stroke="#008000" stroke-width="1.1"/>
<path d="M66.91 500.70H72.71M69.81 497.80V503.60M67.21 498.10L72.41 503.30M67.21 503.30L72.41 498.10M66.94 500.70H72.74M69.84 497.80V503.60M67.24 498.10L72.44 503.30M67.24 503.30L72.44 498.10M66.98 500.70H72.78M69.88 497.80V503.60M67.28 498.10L72.48 503.30M67.28 503.30L72.48 498.10M67.02 500.70H72.82M69.92 497.80V503.60M67.32 498.10L72.52 503.30M67.32 503.30L72.52 498.10M67.07 500.70H72.87M69.97 497.80V503.60M67.37 498.10L72.57 503.30M67.37 503.30L72.57 498.10M67.14 500.70H72.94M70.04 497.80V503.60M67.44 498.10L72.64 503.30M67.44 503.30L72.64 498.10M67.23 500.70H73.03M70.13 497.80V503.60M67.53 498.10L72.73 503.30M67.53 503.30L72.73 498.10M67.34 500.68H73.14M70.24 497.78V503.58M67.64 498.08L72.84 503.28M67.64 503.28L72.84 498.08M67.47 500.66H73.27M70.37 497.76V503.56M67.77 498.06L72.97 503.26M67.77 503.26L72.97 498.06M67.64 500.64H73.44M70.54 497.74V503.54M67.94 498.04L73.14 503.24M67.94 503.24L73.14 498.04M67.84 500.61H73.64M70.74 497.71V503.51M68.14 498.01L73.34 503.21M68.14 503.21L73.34 498.01M68.11 500.58H73.91M71.01 497.68V503.48M68.41 497.98L73.61 503.18M68.41 503.18L73.61 497.98M68.43 500.56H74.23M71.33 497.66V503.46M68.73 497.96L73.93 503.16M68.73 503.16L73.93 497.96M68.84 500.52H74.64M71.74 497.62V503.42M69.14 497.92L74.34 503.12M69.14 503.12L74.34 497.92M69.35 500.47H75.15M72.25 497.57V503.37M69.65 497.87L74.85 503.07M69.65 503.07L74.85 497.87M69.99 500.39H75.79M72.89 497.49V503.29M70.29 497.79L75.49 502.99M70.29 502.99L75.49 497.79M70.79 500.28H76.59M73.69 497.38V503.18M71.09 497.68L76.29 502.88M71.09 502.88L76.29 497.68M71.78 499.99H77.58M74.68 497.09V502.89M72.08 497.39L77.28 502.59M72.08 502.59L77.28 497.39M73.03 499.63H78.83M75.93 496.73V502.53M73.33 497.03L78.53 502.23M73.33 502.23L78.53 497.03M74.59 499.15H80.39M77.49 496.25V502.05M74.89 496.55L80.09 501.75M74.89 501.75L80.09 496.55M76.53 498.02H82.33M79.43 495.12V500.92M76.83 495.42L82.03 500.62M76.83 500.62L82.03 495.42M78.97 496.51H84.77M81.87 493.61V499.41M79.27 493.91L84.47 499.11M79.27 499.11L84.47 493.91M82.01 494.27H87.81M84.91 491.37V497.17M82.31 491.67L87.51 496.87M82.31 496.87L87.51 491.67M85.81 491.27H91.61M88.71 488.37V494.17M86.11 488.67L91.31 493.87M86.11 493.87L91.31 488.67M90.56 486.88H96.36M93.46 483.98V489.78M90.86 484.28L96.06 489.48M90.86 489.48L96.06 484.28M96.50 480.50H102.30M99.40 477.60V483.40M96.80 477.90L102.00 483.10M96.80 483.10L102.00 477.90M104.50 471.50H110.30M107.40 468.60V474.40M104.80 468.90L110.00 474.10M104.80 474.10L110.00 468.90M112.60 463.60H118.40M115.50 460.70V466.50M112.90 461.00L118.10 466.20M112.90 466.20L118.10 461.00M124.80 451.80H130.60M127.70 448.90V454.70M125.10 449.20L130.30 454.40M125.10 454.40L130.30 449.20M141.60 440.60H147.40M144.50 437.70V443.50M141.90 438.00L147.10 443.20M141.90 443.20L147.10 438.00M158.40 430.80H164.20M161.30 427.90V433.70M158.70 428.20L163.90 433.40M158.70 433.40L163.90 428.20M184.10 419.70H189.90M187.00 416.80V422.60M184.40 417.10L189.60 422.30M184.40 422.30L189.60 417.10M217.30 408.50H223.10M220.20 405.60V411.40M217.60 405.90L222.80 411.10M217.60 411.10L222.80 405.90M249.50 399.10H255.30M252.40 396.20V402.00M249.80 396.50L255.00 401.70M249.80 401.70L255.00 396.50M291.60 393.00H297.40M294.50 390.10V395.90M291.90 390.40L297.10 395.60M291.90 395.60L297.10 390.40M337.10 394.50H342.90M340.00 391.60V397.40M337.40 391.90L342.60 397.10M337.40 397.10L342.60 391.90M368.20 410.40H374.00M371.10 407.50V413.30M368.50 407.80L373.70 413.00M368.50 413.00L373.70 407.80M388.20 439.50H394.00M391.10 436.60V442.40M388.50 436.90L393.70 442.10M388.50 442.10L393.70 436.90M402.40 564.00H408.20M405.30 561.10V566.90M402.70 561.40L407.90 566.60M402.70 566.60L407.90 561.40" stroke="#008000" stroke-width="1.2"/>
<path d="M69.81 507.30L69.84 507.30L69.88 507.30L69.92 507.30L69.97 507.30L70.04 507.30L70.13 507.30L70.24 507.28L70.37 507.26L70.54 507.24L70.74 507.21L71.01 507.18L71.33 507.16L71.74 507.12L72.25 507.08L72.89 507.04L73.69 506.98L74.68 506.72L75.93 506.39L77.49 505.96L79.43 505.04L81.87 503.73L84.91 501.57L88.71 498.48L93.46 494.57L99.40 488.80L107.40 480.50L115.50 472.30L127.70 461.90L144.50 451.30L161.30 441.60L187.00 429.90L220.20 416.80L252.40 405.90L294.50 393.80L340.00 388.50L371.10 399.70L391.10 428.80L405.30 523.80" stroke="#800000" stroke-width="1.1"/>
<path d="M66.91 507.30H72.71M69.81 504.40V510.20M67.21 504.70L72.41 509.90M67.21 509.90L72.41 504.70M66.94 507.30H72.74M69.84 504.40V510.20M67.24 504.70L72.44 509.90M67.24 509.90L72.44 504.70M66.98 507.30H72.78M69.88 504.40V510.20M67.28 504.70L72.48 509.90M67.28 509.90L72.48 504.70M67.02 507.30H72.82M69.92 504.40V510.20M67.32 504.70L72.52 509.90M67.32 509.90L72.52 504.70M67.07 507.30H72.87M69.97 504.40V510.20M67.37 504.70L72.57 509.90M67.37 509.90L72.57 504.70M67.14 507.30H72.94M70.04 504.40V510.20M67.44 504.70L72.64 509.90M67.44 509.90L72.64 504.70M67.23 507.30H73.03M70.13 504.40V510.20M67.53 504.70L72.73 509.90M67.53 509.90L72.73 504.70M67.34 507.28H73.14M70.24 504.38V510.18M67.64 504.68L72.84 509.88M67.64 509.88L72.84 504.68M67.47 507.26H73.27M70.37 504.36V510.16M67.77 504.66L72.97 509.86M67.77 509.86L72.97 504.66M67.64 507.24H73.44M70.54 504.34V510.14M67.94 504.64L73.14 509.84M67.94 509.84L73.14 504.64M67.84 507.21H73.64M70.74 504.31V510.11M68.14 504.61L73.34 509.81M68.14 509.81L73.34 504.61M68.11 507.18H73.91M71.01 504.28V510.08M68.41 504.58L73.61 509.78M68.41 509.78L73.61 504.58M68.43 507.16H74.23M71.33 504.26V510.06M68.73 504.56L73.93 509.76M68.73 509.76L73.93 504.56M68.84 507.12H74.64M71.74 504.22V510.02M69.14 504.52L74.34 509.72M69.14 509.72L74.34 504.52M69.35 507.08H75.15M72.25 504.18V509.98M69.65 504.48L74.85 509.68M69.65 509.68L74.85 504.48M69.99 507.04H75.79M72.89 504.14V509.94M70.29 504.44L75.49 509.64M70.29 509.64L75.49 504.44M70.79 506.98H76.59M73.69 504.08V509.88M71.09 504.38L76.29 509.58M71.09 509.58L76.29 504.38M71.78 506.72H77.58M74.68 503.82V509.62M72.08 504.12L77.28 509.32M72.08 509.32L77.28 504.12M73.03 506.39H78.83M75.93 503.49V509.29M73.33 503.79L78.53 508.99M73.33 508.99L78.53 503.79M74.59 505.96H80.39M77.49 503.06V508.86M74.89 503.36L80.09 508.56M74.89 508.56L80.09 503.36M76.53 505.04H82.33M79.43 502.14V507.94M76.83 502.44L82.03 507.64M76.83 507.64L82.03 502.44M78.97 503.73H84.77M81.87 500.83V506.63M79.27 501.13L84.47 506.33M79.27 506.33L84.47 501.13M82.01 501.57H87.81M84.91 498.67V504.47M82.31 498.97L87.51 504.17M82.31 504.17L87.51 498.97M85.81 498.48H91.61M88.71 495.58V501.38M86.11 495.88L91.31 501.08M86.11 501.08L91.31 495.88M90.56 494.57H96.36M93.46 491.67V497.47M90.86 491.97L96.06 497.17M90.86 497.17L96.06 491.97M96.50 488.80H102.30M99.40 485.90V491.70M96.80 486.20L102.00 491.40M96.80 491.40L102.00 486.20M104.50 480.50H110.30M107.40 477.60V483.40M104.80 477.90L110.00 483.10M104.80 483.10L110.00 477.90M112.60 472.30H118.40M115.50 469.40V475.20M112.90 469.70L118.10 474.90M112.90 474.90L118.10 469.70M124.80 461.90H130.60M127.70 459.00V464.80M125.10 459.30L130.30 464.50M125.10 464.50L130.30 459.30M141.60 451.30H147.40M144.50 448.40V454.20M141.90 448.70L147.10 453.90M141.90 453.90L147.10 448.70M158.40 441.60H164.20M161.30 438.70V444.50M158.70 439.00L163.90 444.20M158.70 444.20L163.90 439.00M184.10 429.90H189.90M187.00 427.00V432.80M184.40 427.30L189.60 432.50M184.40 432.50L189.60 427.30M217.30 416.80H223.10M220.20 413.90V419.70M217.60 414.20L222.80 419.40M217.60 419.40L222.80 414.20M249.50 405.90H255.30M252.40 403.00V408.80M249.80 403.30L255.00 408.50M249.80 408.50L255.00 403.30M291.60 393.80H297.40M294.50 390.90V396.70M291.90 391.20L297.10 396.40M291.90 396.40L297.10 391.20M337.10 388.50H342.90M340.00 385.60V391.40M337.40 385.90L342.60 391.10M337.40 391.10L342.60 385.90M368.20 399.70H374.00M371.10 396.80V402.60M368.50 397.10L373.70 402.30M368.50 402.30L373.70 397.10M388.20 428.80H394.00M391.10 425.90V431.70M388.50 426.20L393.70 431.40M388.50 431.40L393.70 426.20M402.40 523.80H408.20M405.30 520.90V526.70M402.70 521.20L407.90 526.40M402.70 526.40L407.90 521.20" stroke="#800000" stroke-width="1.2"/>
<path d="M69.81 514.30L69.84 514.30L69.88 514.30L69.92 514.30L69.97 514.30L70.04 514.30L70.13 514.21L70.24 513.86L70.37 513.42L70.54 512.87L70.74 512.18L71.01 511.83L71.33 511.56L71.74 511.22L72.25 510.92L72.89 510.72L73.69 510.48L74.68 510.19L75.93 509.83L77.49 509.37L79.43 508.65L81.87 507.65L84.91 506.05L88.71 503.07L93.46 499.24L99.40 494.00L107.40 486.10L115.50 479.20L127.70 469.50L144.50 459.60L161.30 450.60L187.00 439.40L220.20 426.80L252.40 415.20L294.50 399.00L340.00 384.30L371.10 387.30L391.10 412.60L405.30 493.30" stroke="#ff0000" stroke-width="1.1"/>
<path d="M66.91 514.30H72.71M69.81 511.40V517.20M67.21 511.70L72.41 516.90M67.21 516.90L72.41 511.70M66.94 514.30H72.74M69.84 511.40V517.20M67.24 511.70L72.44 516.90M67.24 516.90L72.44 511.70M66.98 514.30H72.78M69.88 511.40V517.20M67.28 511.70L72.48 516.90M67.28 516.90L72.48 511.70M67.02 514.30H72.82M69.92 511.40V517.20M67.32 511.70L72.52 516.90M67.32 516.90L72.52 511.70M67.07 514.30H72.87M69.97 511.40V517.20M67.37 511.70L72.57 516.90M67.37 516.90L72.57 511.70M67.14 514.30H72.94M70.04 511.40V517.20M67.44 511.70L72.64 516.90M67.44 516.90L72.64 511.70M67.23 514.21H73.03M70.13 511.31V517.11M67.53 511.61L72.73 516.81M67.53 516.81L72.73 511.61M67.34 513.86H73.14M70.24 510.96V516.76M67.64 511.26L72.84 516.46M67.64 516.46L72.84 511.26M67.47 513.42H73.27M70.37 510.52V516.32M67.77 510.82L72.97 516.02M67.77 516.02L72.97 510.82M67.64 512.87H73.44M70.54 509.97V515.77M67.94 510.27L73.14 515.47M67.94 515.47L73.14 510.27M67.84 512.18H73.64M70.74 509.28V515.08M68.14 509.58L73.34 514.78M68.14 514.78L73.34 509.58M68.11 511.83H73.91M71.01 508.93V514.73M68.41 509.23L73.61 514.43M68.41 514.43L73.61 509.23M68.43 511.56H74.23M71.33 508.66V514.46M68.73 508.96L73.93 514.16M68.73 514.16L73.93 508.96M68.84 511.22H74.64M71.74 508.32V514.12M69.14 508.62L74.34 513.82M69.14 513.82L74.34 508.62M69.35 510.92H75.15M72.25 508.02V513.82M69.65 508.32L74.85 513.52M69.65 513.52L74.85 508.32M69.99 510.72H75.79M72.89 507.82V513.62M70.29 508.12L75.49 513.32M70.29 513.32L75.49 508.12M70.79 510.48H76.59M73.69 507.58V513.38M71.09 507.88L76.29 513.08M71.09 513.08L76.29 507.88M71.78 510.19H77.58M74.68 507.29V513.09M72.08 507.59L77.28 512.79M72.08 512.79L77.28 507.59M73.03 509.83H78.83M75.93 506.93V512.73M73.33 507.23L78.53 512.43M73.33 512.43L78.53 507.23M74.59 509.37H80.39M77.49 506.47V512.27M74.89 506.77L80.09 511.97M74.89 511.97L80.09 506.77M76.53 508.65H82.33M79.43 505.75V511.55M76.83 506.05L82.03 511.25M76.83 511.25L82.03 506.05M78.97 507.65H84.77M81.87 504.75V510.55M79.27 505.05L84.47 510.25M79.27 510.25L84.47 505.05M82.01 506.05H87.81M84.91 503.15V508.95M82.31 503.45L87.51 508.65M82.31 508.65L87.51 503.45M85.81 503.07H91.61M88.71 500.17V505.97M86.11 500.47L91.31 505.67M86.11 505.67L91.31 500.47M90.56 499.24H96.36M93.46 496.34V502.14M90.86 496.64L96.06 501.84M90.86 501.84L96.06 496.64M96.50 494.00H102.30M99.40 491.10V496.90M96.80 491.40L102.00 496.60M96.80 496.60L102.00 491.40M104.50 486.10H110.30M107.40 483.20V489.00M104.80 483.50L110.00 488.70M104.80 488.70L110.00 483.50M112.60 479.20H118.40M115.50 476.30V482.10M112.90 476.60L118.10 481.80M112.90 481.80L118.10 476.60M124.80 469.50H130.60M127.70 466.60V472.40M125.10 466.90L130.30 472.10M125.10 472.10L130.30 466.90M141.60 459.60H147.40M144.50 456.70V462.50M141.90 457.00L147.10 462.20M141.90 462.20L147.10 457.00M158.40 450.60H164.20M161.30 447.70V453.50M158.70 448.00L163.90 453.20M158.70 453.20L163.90 448.00M184.10 439.40H189.90M187.00 436.50V442.30M184.40 436.80L189.60 442.00M184.40 442.00L189.60 436.80M217.30 426.80H223.10M220.20 423.90V429.70M217.60 424.20L222.80 429.40M217.60 429.40L222.80 424.20M249.50 415.20H255.30M252.40 412.30V418.10M249.80 412.60L255.00 417.80M249.80 417.80L255.00 412.60M291.60 399.00H297.40M294.50 396.10V401.90M291.90 396.40L297.10 401.60M291.90 401.60L297.10 396.40M337.10 384.30H342.90M340.00 381.40V387.20M337.40 381.70L342.60 386.90M337.40 386.90L342.60 381.70M368.20 387.30H374.00M371.10 384.40V390.20M368.50 384.70L373.70 389.90M368.50 389.90L373.70 384.70M388.20 412.60H394.00M391.10 409.70V415.50M388.50 410.00L393.70 415.20M388.50 415.20L393.70 410.00M402.40 493.30H408.20M405.30 490.40V496.20M402.70 490.70L407.90 495.90M402.70 495.90L407.90 490.70" stroke="#ff0000" stroke-width="1.2"/>
</g>
<path d="M69.7 21.10H442.6V192.20H69.7ZM69.7 192.20H442.6V363.30H69.7ZM69.7 363.30H442.6V534.40H69.7Z" fill="none" stroke="#000" stroke-width="1.15"/>
<text x="42.0" y="65.4" font-size="11.5" textLength="13.2" lengthAdjust="spacingAndGlyphs">10</text><path d="M56.7 58.2L60.9 58.2" stroke="#000" stroke-width="0.9" fill="none"/><text x="61.4" y="60.4" font-size="7.3">1</text>
<text x="42.0" y="122.4" font-size="11.5" textLength="13.2" lengthAdjust="spacingAndGlyphs">10</text><path d="M56.7 115.2L60.9 115.2" stroke="#000" stroke-width="0.9" fill="none"/><text x="61.4" y="117.4" font-size="7.3">2</text>
<text x="42.0" y="179.4" font-size="11.5" textLength="13.2" lengthAdjust="spacingAndGlyphs">10</text><path d="M56.7 172.2L60.9 172.2" stroke="#000" stroke-width="0.9" fill="none"/><text x="61.4" y="174.4" font-size="7.3">3</text>
<text x="42.0" y="236.5" font-size="11.5" textLength="13.2" lengthAdjust="spacingAndGlyphs">10</text><path d="M56.7 229.3L60.9 229.3" stroke="#000" stroke-width="0.9" fill="none"/><text x="61.4" y="231.5" font-size="7.3">1</text>
<text x="42.0" y="293.5" font-size="11.5" textLength="13.2" lengthAdjust="spacingAndGlyphs">10</text><path d="M56.7 286.3L60.9 286.3" stroke="#000" stroke-width="0.9" fill="none"/><text x="61.4" y="288.5" font-size="7.3">2</text>
<text x="42.0" y="350.5" font-size="11.5" textLength="13.2" lengthAdjust="spacingAndGlyphs">10</text><path d="M56.7 343.3L60.9 343.3" stroke="#000" stroke-width="0.9" fill="none"/><text x="61.4" y="345.5" font-size="7.3">3</text>
<text x="42.0" y="407.6" font-size="11.5" textLength="13.2" lengthAdjust="spacingAndGlyphs">10</text><path d="M56.7 400.4L60.9 400.4" stroke="#000" stroke-width="0.9" fill="none"/><text x="61.4" y="402.6" font-size="7.3">1</text>
<text x="42.0" y="464.6" font-size="11.5" textLength="13.2" lengthAdjust="spacingAndGlyphs">10</text><path d="M56.7 457.4L60.9 457.4" stroke="#000" stroke-width="0.9" fill="none"/><text x="61.4" y="459.6" font-size="7.3">2</text>
<text x="42.0" y="521.6" font-size="11.5" textLength="13.2" lengthAdjust="spacingAndGlyphs">10</text><path d="M56.7 514.4L60.9 514.4" stroke="#000" stroke-width="0.9" fill="none"/><text x="61.4" y="516.6" font-size="7.3">3</text>
<text x="69.5" y="551.7" font-size="11.8" text-anchor="middle">0</text>
<text x="119.2" y="551.7" font-size="11.8" text-anchor="middle">2</text>
<text x="168.9" y="551.7" font-size="11.8" text-anchor="middle">4</text>
<text x="218.7" y="551.7" font-size="11.8" text-anchor="middle">6</text>
<text x="268.4" y="551.7" font-size="11.8" text-anchor="middle">8</text>
<text x="318.1" y="551.7" font-size="11.8" text-anchor="middle">10</text>
<text x="367.8" y="551.7" font-size="11.8" text-anchor="middle">12</text>
<text x="417.5" y="551.7" font-size="11.8" text-anchor="middle">14</text>
<text x="209.9" y="562.2" font-size="11.2" textLength="32.0" lengthAdjust="spacingAndGlyphs">Stellar</text><text x="248.6" y="562.2" font-size="11.2" textLength="17.9" lengthAdjust="spacingAndGlyphs">Age</text><text x="286.0" y="562.2" font-size="11.2" textLength="15.7" lengthAdjust="spacingAndGlyphs">Gyr</text><path d="M272.3 564.8L278.2 552.4" stroke="#000" stroke-width="1.0" fill="none"/>
<g transform="translate(37.3 313.9) rotate(-90)"><path d="M0.4 -0.4L2.9 -7.7L5.4 -0.4Z" fill="none" stroke="#000" stroke-width="1.0" stroke-linejoin="round"/><text x="5.8" y="0.0" font-size="11.2" textLength="2.9" lengthAdjust="spacingAndGlyphs">f</text><path d="M10.5 1.9L16.5 -9.3" stroke="#000" stroke-width="1.0" fill="none"/><path d="M17.9 -0.4L20.4 -7.7L22.9 -0.4Z" fill="none" stroke="#000" stroke-width="1.0" stroke-linejoin="round"/><text x="23.2" y="0.0" font-size="11.2" textLength="3.1" lengthAdjust="spacingAndGlyphs">t</text><path d="M33.6 1.9L39.5 -9.3" stroke="#000" stroke-width="1.0" fill="none"/><text x="45.6" y="0.0" font-size="11.2" textLength="14.8" lengthAdjust="spacingAndGlyphs">Gyr</text><path d="M63.6 -8.0L67.3 -8.0" stroke="#000" stroke-width="0.9" fill="none"/><text x="67.8" y="-6.1" font-size="7.0">1</text></g>
<text x="94.1" y="44.2" font-size="11.5" textLength="12.0" lengthAdjust="spacing">All</text><text x="113.1" y="44.2" font-size="11.5" textLength="45.0" lengthAdjust="spacing">galaxies</text>
<text x="94.7" y="215.5" font-size="11.5" textLength="128.0" lengthAdjust="spacing">Star–forming galaxies</text>
<text x="94.7" y="386.5" font-size="11.5" textLength="105.9" lengthAdjust="spacing">Quiescent galaxies</text>
<text x="94.8" y="278.0" font-size="11.5" textLength="17.5" lengthAdjust="spacingAndGlyphs" style="fill:#0000ff;stroke:#0000ff">9.5</text><path d="M132.3 270.8L124.9 274.4L132.3 278.0" fill="none" stroke="#0000ff" stroke-width="1.0"/><text x="139.4" y="278.0" font-size="11.8" textLength="15.7" lengthAdjust="spacingAndGlyphs" style="fill:#0000ff;stroke:#0000ff">log</text><text x="156.5" y="281.0" font-size="7.8" textLength="8.4" lengthAdjust="spacingAndGlyphs" style="fill:#0000ff;stroke:#0000ff;stroke-width:0.35px">10</text><path d="M168.9 267.6Q164.0 274.3 168.9 281.0" fill="none" stroke="#0000ff" stroke-width="1.0"/><text x="170.0" y="278.0" font-size="11.5" textLength="8.2" lengthAdjust="spacingAndGlyphs" style="fill:#0000ff;stroke:#0000ff">M</text><path d="M179.7 281.0L186.6 267.6" stroke="#0000ff" stroke-width="1.0" fill="none"/><text x="187.6" y="278.0" font-size="11.5" textLength="8.2" lengthAdjust="spacingAndGlyphs" style="fill:#0000ff;stroke:#0000ff">M</text><circle cx="199.1" cy="278.5" r="2.5" fill="none" stroke="#0000ff" stroke-width="0.9"/><circle cx="199.1" cy="278.5" r="0.9" fill="#0000ff"/><path d="M203.0 267.6Q207.9 274.3 203.0 281.0" fill="none" stroke="#0000ff" stroke-width="1.0"/><path d="M221.4 270.8L214.0 274.4L221.4 278.0" fill="none" stroke="#0000ff" stroke-width="1.0"/><text x="229.3" y="278.0" font-size="11.5" textLength="15.5" lengthAdjust="spacingAndGlyphs" style="fill:#0000ff;stroke:#0000ff">10.</text>
<text x="95.6" y="294.6" font-size="11.5" textLength="16.7" lengthAdjust="spacingAndGlyphs" style="fill:#008000;stroke:#008000">10.</text><path d="M132.3 287.4L124.9 291.0L132.3 294.6" fill="none" stroke="#008000" stroke-width="1.0"/><text x="139.4" y="294.6" font-size="11.8" textLength="15.7" lengthAdjust="spacingAndGlyphs" style="fill:#008000;stroke:#008000">log</text><text x="156.5" y="297.6" font-size="7.8" textLength="8.4" lengthAdjust="spacingAndGlyphs" style="fill:#008000;stroke:#008000;stroke-width:0.35px">10</text><path d="M168.9 284.2Q164.0 290.9 168.9 297.6" fill="none" stroke="#008000" stroke-width="1.0"/><text x="170.0" y="294.6" font-size="11.5" textLength="8.2" lengthAdjust="spacingAndGlyphs" style="fill:#008000;stroke:#008000">M</text><path d="M179.7 297.6L186.6 284.2" stroke="#008000" stroke-width="1.0" fill="none"/><text x="187.6" y="294.6" font-size="11.5" textLength="8.2" lengthAdjust="spacingAndGlyphs" style="fill:#008000;stroke:#008000">M</text><circle cx="199.1" cy="295.1" r="2.5" fill="none" stroke="#008000" stroke-width="0.9"/><circle cx="199.1" cy="295.1" r="0.9" fill="#008000"/><path d="M203.0 284.2Q207.9 290.9 203.0 297.6" fill="none" stroke="#008000" stroke-width="1.0"/><path d="M221.4 287.4L214.0 291.0L221.4 294.6" fill="none" stroke="#008000" stroke-width="1.0"/><text x="229.3" y="294.6" font-size="11.5" textLength="23.3" lengthAdjust="spacingAndGlyphs" style="fill:#008000;stroke:#008000">10.5</text>
<text x="95.6" y="312.2" font-size="11.5" textLength="23.5" lengthAdjust="spacingAndGlyphs" style="fill:#800000;stroke:#800000">10.5</text><path d="M133.9 305.0L126.5 308.6L133.9 312.2" fill="none" stroke="#800000" stroke-width="1.0"/><text x="141.0" y="312.2" font-size="11.8" textLength="15.7" lengthAdjust="spacingAndGlyphs" style="fill:#800000;stroke:#800000">log</text><text x="158.1" y="315.2" font-size="7.8" textLength="8.4" lengthAdjust="spacingAndGlyphs" style="fill:#800000;stroke:#800000;stroke-width:0.35px">10</text><path d="M170.5 301.8Q165.6 308.5 170.5 315.2" fill="none" stroke="#800000" stroke-width="1.0"/><text x="171.6" y="312.2" font-size="11.5" textLength="8.2" lengthAdjust="spacingAndGlyphs" style="fill:#800000;stroke:#800000">M</text><path d="M181.3 315.2L188.2 301.8" stroke="#800000" stroke-width="1.0" fill="none"/><text x="189.2" y="312.2" font-size="11.5" textLength="8.2" lengthAdjust="spacingAndGlyphs" style="fill:#800000;stroke:#800000">M</text><circle cx="200.7" cy="312.7" r="2.5" fill="none" stroke="#800000" stroke-width="0.9"/><circle cx="200.7" cy="312.7" r="0.9" fill="#800000"/><path d="M204.6 301.8Q209.5 308.5 204.6 315.2" fill="none" stroke="#800000" stroke-width="1.0"/><path d="M223.0 305.0L215.6 308.6L223.0 312.2" fill="none" stroke="#800000" stroke-width="1.0"/><text x="230.9" y="312.2" font-size="11.5" textLength="16.3" lengthAdjust="spacingAndGlyphs" style="fill:#800000;stroke:#800000">11.</text>
<text x="96.0" y="328.8" font-size="11.5" textLength="16.3" lengthAdjust="spacingAndGlyphs" style="fill:#ff0000;stroke:#ff0000">11.</text><path d="M132.3 321.6L124.9 325.2L132.3 328.8" fill="none" stroke="#ff0000" stroke-width="1.0"/><text x="139.4" y="328.8" font-size="11.8" textLength="15.7" lengthAdjust="spacingAndGlyphs" style="fill:#ff0000;stroke:#ff0000">log</text><text x="156.5" y="331.8" font-size="7.8" textLength="8.4" lengthAdjust="spacingAndGlyphs" style="fill:#ff0000;stroke:#ff0000;stroke-width:0.35px">10</text><path d="M168.9 318.4Q164.0 325.1 168.9 331.8" fill="none" stroke="#ff0000" stroke-width="1.0"/><text x="170.0" y="328.8" font-size="11.5" textLength="8.2" lengthAdjust="spacingAndGlyphs" style="fill:#ff0000;stroke:#ff0000">M</text><path d="M179.7 331.8L186.6 318.4" stroke="#ff0000" stroke-width="1.0" fill="none"/><text x="187.6" y="328.8" font-size="11.5" textLength="8.2" lengthAdjust="spacingAndGlyphs" style="fill:#ff0000;stroke:#ff0000">M</text><circle cx="199.1" cy="329.3" r="2.5" fill="none" stroke="#ff0000" stroke-width="0.9"/><circle cx="199.1" cy="329.3" r="0.9" fill="#ff0000"/><path d="M203.0 318.4Q207.9 325.1 203.0 331.8" fill="none" stroke="#ff0000" stroke-width="1.0"/>
</svg>
</body></html>
